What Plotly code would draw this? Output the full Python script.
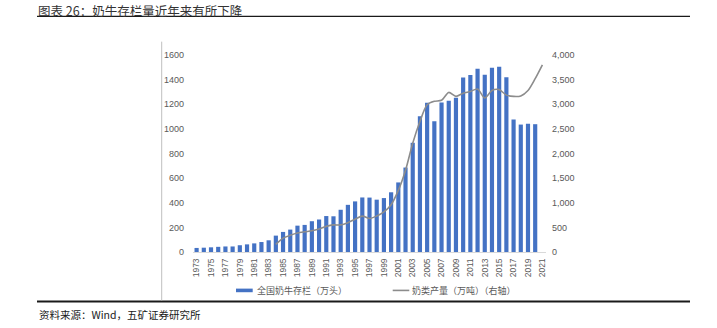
import plotly.graph_objects as go

years = [1973, 1974, 1975, 1976, 1977, 1978, 1979, 1980, 1981, 1982,
         1983, 1984, 1985, 1986, 1987, 1988, 1989, 1990, 1991, 1992,
         1993, 1994, 1995, 1996, 1997, 1998, 1999, 2000, 2001, 2002,
         2003, 2004, 2005, 2006, 2007, 2008, 2009, 2010, 2011, 2012,
         2013, 2014, 2015, 2016, 2017, 2018, 2019, 2020, 2021]

cattle = [33, 35, 38, 42, 45, 45, 55, 62, 70, 81,
          95, 133, 163, 182, 214, 220, 250, 264, 292, 290,
          343, 383, 411, 443, 442, 425, 438, 485, 565, 686,
          887, 1103, 1213, 1061, 1215, 1228, 1252, 1418, 1437, 1488,
          1440, 1496, 1504, 1420, 1076, 1035, 1041, 1038, None]

milk = [None, None, None, None, None, None, None, None, None, None,
        None, 155, 282, 340, 385, 410, 430, 468, 520, 550,
        550, 595, 665, 728, 680, 730, 815, 960, 1250, 1660,
        2210, 2650, 2990, 3060, 3080, 3240, 3160, 3225, 3260, 3310,
        3128, 3280, 3297, 3185, 3160, 3170, 3280, 3520, 3800]

xtick_years = [1973, 1975, 1977, 1979, 1981, 1983, 1985, 1987, 1989, 1991,
               1993, 1995, 1997, 1999, 2001, 2003, 2005, 2007, 2009, 2011,
               2013, 2015, 2017, 2019, 2021]
left_ticks = [0, 200, 400, 600, 800, 1000, 1200, 1400, 1600]
right_ticks = [0, 500, 1000, 1500, 2000, 2500, 3000, 3500, 4000]

title_text = "图表 26：奶牛存栏量近年来有所下降"
source_text = "资料来源：Wind，五矿证券研究所"
bar_name = "全国奶牛存栏（万头）"
line_name = "奶类产量（万吨）（右轴）"

W, H = 717, 328
L, R, T, B = 193, 546, 55.3, 251.7

def xp(px):
    return (px - L) / (R - L)

def yp(py):
    return (B - py) / (B - T)

CJK = "Noto Sans CJK SC"
NUM = "Liberation Sans, Arial, sans-serif"
BLUE = "#4472C4"
GRAY_LINE = "#8C8C8C"
TICK_GRAY = "#595959"

fig = go.Figure()
fig.add_trace(go.Bar(x=years, y=cattle, name=bar_name, marker_color=BLUE,
                     marker_line_width=0, showlegend=False))
fig.add_trace(go.Scatter(x=years, y=milk, name=line_name, yaxis="y2",
                         mode="lines", line=dict(color=GRAY_LINE, width=1.6,
                                                 shape="spline", smoothing=0.8),
                         connectgaps=False, showlegend=False))

fig.update_layout(
    width=W, height=H,
    margin=dict(l=L, r=W - R, t=T, b=H - B, pad=0),
    paper_bgcolor="white", plot_bgcolor="white",
    bargap=0.42,
    font=dict(family=NUM, size=9, color=TICK_GRAY),
    xaxis=dict(range=[years[0] - 0.5, years[-1] + 0.5],
               tickmode="array", tickvals=xtick_years,
               ticktext=[str(y) for y in xtick_years],
               tickangle=-90, ticks="", showgrid=False, zeroline=False,
               showline=True, linecolor="#D9D9D9", linewidth=1,
               tickfont=dict(family=NUM, size=8.5, color=TICK_GRAY),
               ticklabelstandoff=2),
    yaxis=dict(range=[0, 1600], tickmode="array", tickvals=left_ticks,
               ticktext=[str(v) for v in left_ticks],
               showgrid=False, zeroline=False, ticks="",
               tickfont=dict(family=NUM, size=9, color=TICK_GRAY),
               ticklabelstandoff=8),
    yaxis2=dict(range=[0, 4000], overlaying="y", side="right",
                tickmode="array", tickvals=right_ticks,
                ticktext=[f"{v:,}" for v in right_ticks],
                showgrid=False, zeroline=False, ticks="",
                tickfont=dict(family=NUM, size=9, color=TICK_GRAY),
                ticklabelstandoff=5),
    showlegend=False,
)

shapes = [
    # top rule
    dict(type="line", xref="paper", yref="paper", x0=xp(37), x1=xp(690),
         y0=yp(16.7), y1=yp(16.7), line=dict(color="#1a1a1a", width=1.3)),
    # bottom rule
    dict(type="line", xref="paper", yref="paper", x0=xp(37), x1=xp(690),
         y0=yp(301), y1=yp(301), line=dict(color="#1a1a1a", width=2)),
    # chart frame left edge
    dict(type="line", xref="paper", yref="paper", x0=xp(161.7), x1=xp(161.7),
         y0=yp(42), y1=yp(300), line=dict(color="#BFBFBF", width=1)),
    # legend swatches
    dict(type="rect", xref="paper", yref="paper", x0=xp(236), x1=xp(252.7),
         y0=yp(291.8), y1=yp(288.2), fillcolor=BLUE, line=dict(width=0)),
    dict(type="line", xref="paper", yref="paper", x0=xp(392.7), x1=xp(409.3),
         y0=yp(290), y1=yp(290), line=dict(color=GRAY_LINE, width=1.6)),
]

annotations = [
    dict(text=title_text, xref="paper", yref="paper", x=xp(37), y=yp(0),
         xanchor="left", yanchor="top", showarrow=False, borderpad=0,
         font=dict(family=CJK, size=12.5, color="#333333")),
    dict(text=source_text, xref="paper", yref="paper", x=xp(37), y=yp(314.5),
         xanchor="left", yanchor="middle", showarrow=False,
         font=dict(family=CJK, size=10.5, color="#1a1a1a")),
    dict(text=bar_name, xref="paper", yref="paper", x=xp(254.5), y=yp(290),
         xanchor="left", yanchor="middle", showarrow=False,
         font=dict(family=CJK, size=9, color=TICK_GRAY)),
    dict(text=line_name, xref="paper", yref="paper", x=xp(410.3), y=yp(290),
         xanchor="left", yanchor="middle", showarrow=False,
         font=dict(family=CJK, size=9, color=TICK_GRAY)),
]

fig.update_layout(shapes=shapes, annotations=annotations)
fig.write_html("out.html")
